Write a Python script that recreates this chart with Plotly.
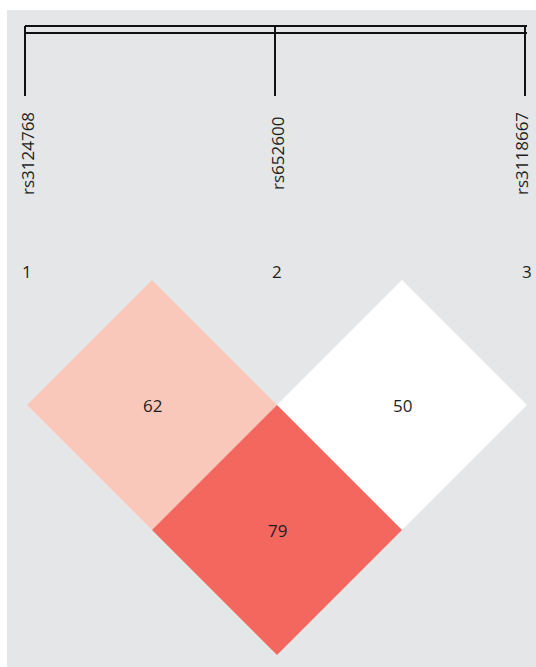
import plotly.graph_objects as go

# ---- data ----
snp_names = ["rs3124768", "rs652600", "rs3118667"]
snp_index = [1, 2, 3]
pair_i = [1, 2, 1]
pair_j = [2, 3, 3]
ld_values = [62, 50, 79]

# ---- styles ----
cell_colors = ["#f9c8bb", "#ffffff", "#f3675f"]
bg_color = "#e5e6e8"
font_family = "Open Sans, sans-serif"
text_color = "#1e1e1e"

fig = go.Figure()

# LD diamonds
for i, j, v, c in zip(pair_i, pair_j, ld_values, cell_colors):
    cx = (i + j) / 2
    cy = -(j - i) / 2
    h = 0.5
    xs = [cx, cx + h, cx, cx - h, cx]
    ys = [cy + h, cy, cy - h, cy, cy + h]
    fig.add_trace(go.Scatter(x=xs, y=ys, mode="lines", fill="toself",
                             fillcolor=c, line=dict(width=0, color=c),
                             hoverinfo="skip", showlegend=False))
    fig.add_annotation(x=cx, y=cy, text=str(v), showarrow=False,
                       font=dict(size=17, color=text_color, family=font_family))

# bracket lines at top
y_top = 1.016
y_second = 0.988
y_bottom = 0.736
first, last = snp_index[0], snp_index[-1]
for yy in (y_top, y_second):
    fig.add_trace(go.Scatter(x=[first - 0.008, last], y=[yy, yy], mode="lines",
                             line=dict(color="#111111", width=2),
                             hoverinfo="skip", showlegend=False))
for p in snp_index:
    fig.add_trace(go.Scatter(x=[p - 0.008, p - 0.008], y=[y_top, y_bottom], mode="lines",
                             line=dict(color="#111111", width=2),
                             hoverinfo="skip", showlegend=False))

# SNP labels and indices
for p, name in zip(snp_index, snp_names):
    fig.add_annotation(x=p, y=0.504, text=name, textangle=-90, showarrow=False,
                       xanchor="center", yanchor="middle",
                       xshift=(-6 if p == last else 0),
                       font=dict(size=17, color=text_color, family=font_family))
    fig.add_annotation(x=p, y=0.036, text=str(p), showarrow=False,
                       xanchor="center", yanchor="middle",
                       font=dict(size=17, color=text_color, family=font_family))

fig.update_xaxes(range=[0.92, 3.036], showgrid=False, zeroline=False,
                 showticklabels=False, showline=False, fixedrange=True)
fig.update_yaxes(range=[-1.548, 1.08], showgrid=False, zeroline=False,
                 showticklabels=False, showline=False, fixedrange=True)
fig.update_layout(width=536, height=667, autosize=False,
                  margin=dict(l=7, r=0, t=10, b=0, pad=0),
                  paper_bgcolor="white", plot_bgcolor=bg_color)

fig.write_html("out.html",
               config={"displayModeBar": False},
               post_script="document.body.style.margin='0';document.body.style.overflow='hidden';")
